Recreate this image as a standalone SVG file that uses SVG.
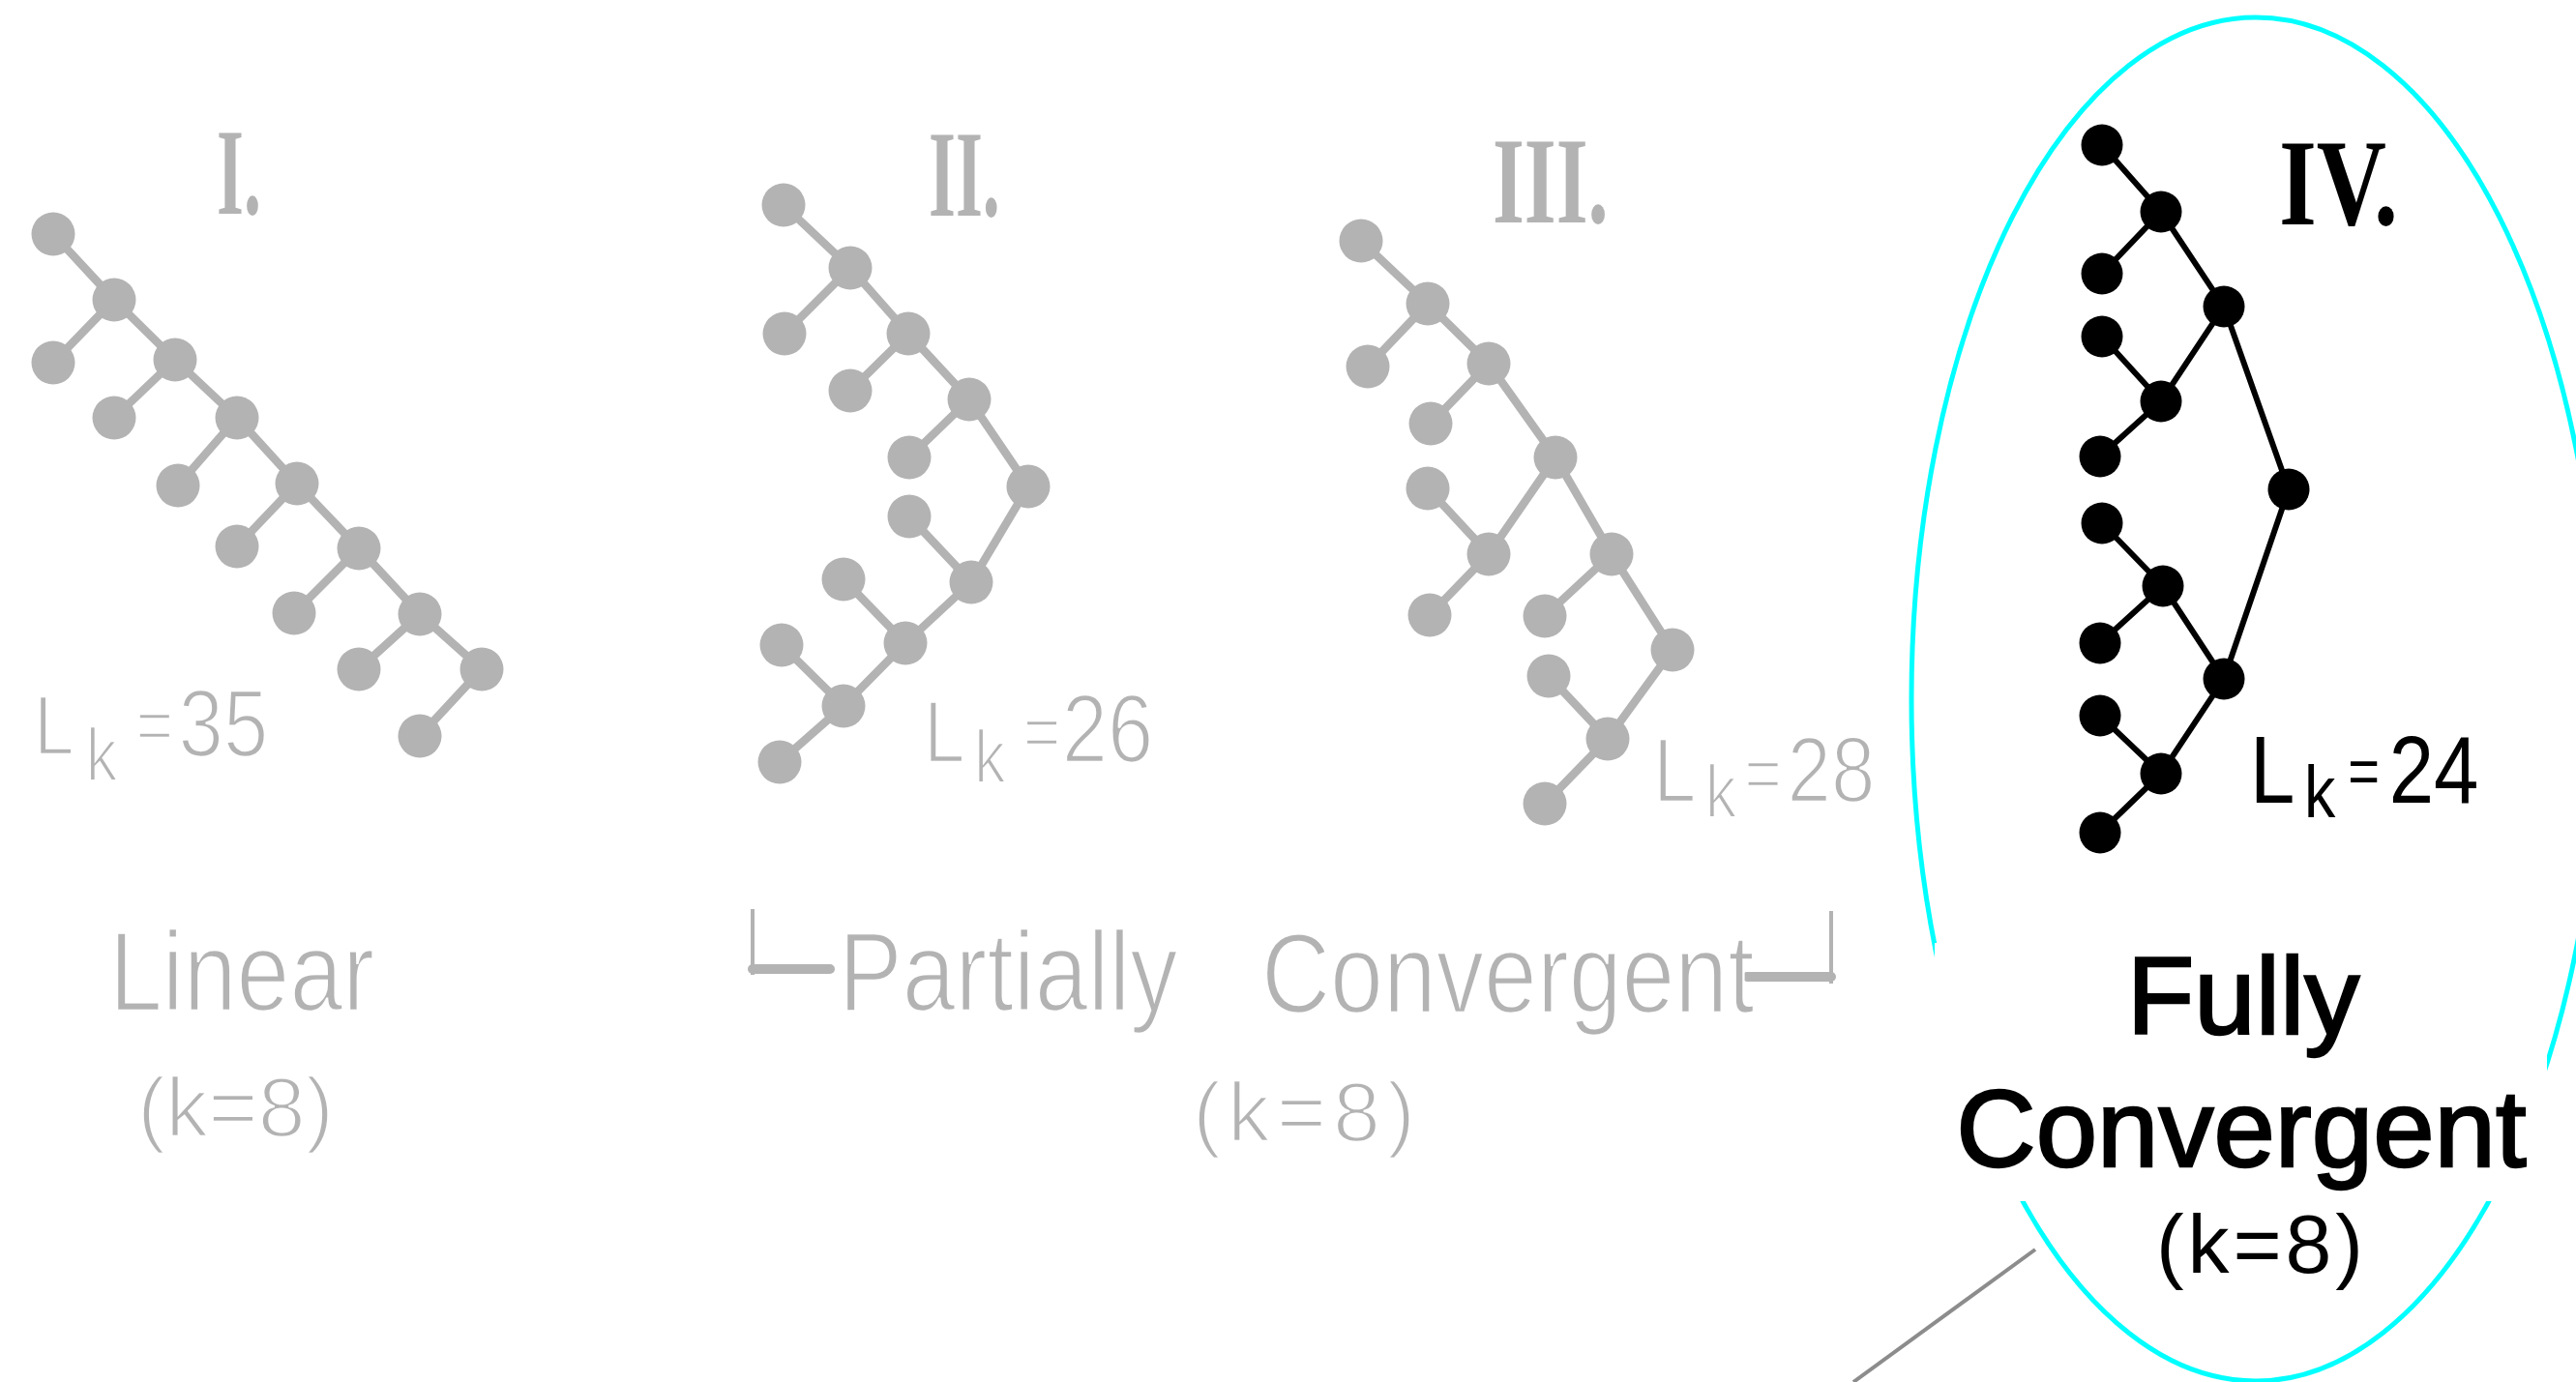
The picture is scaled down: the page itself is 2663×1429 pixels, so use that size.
<svg xmlns="http://www.w3.org/2000/svg" width="2663" height="1429" viewBox="0 0 2663 1429">
<style>
.ge{stroke:#b3b3b3;stroke-width:8.5;stroke-linecap:round}
.be{stroke:#000;stroke-width:6;stroke-linecap:round}
.gn{fill:#b3b3b3}
.bn{fill:#000}
.num{font-family:"Liberation Serif","Times New Roman",serif;font-weight:bold;font-size:128px}
.lab{font-family:"Liberation Sans",Arial,sans-serif}
.thin{stroke:#fff;stroke-width:2.6}
.gray{fill:#b3b3b3}
.blk{fill:#000}
</style>
<defs>
<linearGradient id="g28" gradientUnits="userSpaceOnUse" x1="264" y1="0" x2="266" y2="0">
<stop offset="0" stop-color="#b3b3b3"/><stop offset="1" stop-color="#000"/>
</linearGradient>
</defs>
<rect width="2663" height="1429" fill="#fff"/>

<g id="connectors">
<!-- Tree I -->
<line class="ge" x1="55" y1="242" x2="118" y2="310"/>
<line class="ge" x1="55" y1="375" x2="118" y2="310"/>
<line class="ge" x1="118" y1="310" x2="181" y2="372"/>
<line class="ge" x1="118" y1="432" x2="181" y2="372"/>
<line class="ge" x1="181" y1="372" x2="245" y2="432"/>
<line class="ge" x1="184" y1="502" x2="245" y2="432"/>
<line class="ge" x1="245" y1="432" x2="307" y2="500"/>
<line class="ge" x1="245" y1="565" x2="307" y2="500"/>
<line class="ge" x1="307" y1="500" x2="371" y2="567"/>
<line class="ge" x1="304" y1="634" x2="371" y2="567"/>
<line class="ge" x1="371" y1="567" x2="434" y2="635"/>
<line class="ge" x1="371" y1="692" x2="434" y2="635"/>
<line class="ge" x1="434" y1="635" x2="498" y2="692"/>
<line class="ge" x1="434" y1="761" x2="498" y2="692"/>
<!-- Tree II -->
<line class="ge" x1="810" y1="212" x2="879" y2="277"/>
<line class="ge" x1="811" y1="345" x2="879" y2="277"/>
<line class="ge" x1="879" y1="277" x2="939" y2="345"/>
<line class="ge" x1="879" y1="404" x2="939" y2="345"/>
<line class="ge" x1="939" y1="345" x2="1002" y2="413"/>
<line class="ge" x1="940" y1="473" x2="1002" y2="413"/>
<line class="ge" x1="1002" y1="413" x2="1063" y2="503"/>
<line class="ge" x1="1063" y1="503" x2="1004" y2="602"/>
<line class="ge" x1="940" y1="534" x2="1004" y2="602"/>
<line class="ge" x1="1004" y1="602" x2="936" y2="665"/>
<line class="ge" x1="872" y1="599" x2="936" y2="665"/>
<line class="ge" x1="936" y1="665" x2="872" y2="730"/>
<line class="ge" x1="808" y1="667" x2="872" y2="730"/>
<line class="ge" x1="806" y1="788" x2="872" y2="730"/>
<!-- Tree III -->
<line class="ge" x1="1407" y1="249" x2="1476" y2="314"/>
<line class="ge" x1="1414" y1="379" x2="1476" y2="314"/>
<line class="ge" x1="1476" y1="314" x2="1539" y2="376"/>
<line class="ge" x1="1479" y1="438" x2="1539" y2="376"/>
<line class="ge" x1="1539" y1="376" x2="1608" y2="473"/>
<line class="ge" x1="1608" y1="473" x2="1539" y2="573"/>
<line class="ge" x1="1476" y1="505" x2="1539" y2="573"/>
<line class="ge" x1="1478" y1="636" x2="1539" y2="573"/>
<line class="ge" x1="1608" y1="473" x2="1666" y2="573"/>
<line class="ge" x1="1597" y1="637" x2="1666" y2="573"/>
<line class="ge" x1="1666" y1="573" x2="1729" y2="672"/>
<line class="ge" x1="1729" y1="672" x2="1662" y2="764"/>
<line class="ge" x1="1601" y1="699" x2="1662" y2="764"/>
<line class="ge" x1="1597" y1="831" x2="1662" y2="764"/>
<!-- Tree IV -->
<line class="be" x1="2173" y1="150" x2="2234" y2="219"/>
<line class="be" x1="2173" y1="283" x2="2234" y2="219"/>
<line class="be" x1="2234" y1="219" x2="2299" y2="317"/>
<line class="be" x1="2173" y1="348" x2="2234" y2="415"/>
<line class="be" x1="2171" y1="472" x2="2234" y2="415"/>
<line class="be" x1="2234" y1="415" x2="2299" y2="317"/>
<line class="be" x1="2299" y1="317" x2="2366" y2="506"/>
<line class="be" x1="2366" y1="506" x2="2299" y2="702"/>
<line class="be" x1="2236" y1="606" x2="2299" y2="702"/>
<line class="be" x1="2234" y1="800" x2="2299" y2="702"/>
<line class="be" x1="2173" y1="541" x2="2236" y2="606"/>
<line class="be" x1="2171" y1="665" x2="2236" y2="606"/>
<line class="be" x1="2171" y1="740" x2="2234" y2="800"/>
<line class="be" x1="2171" y1="861" x2="2234" y2="800"/>
<!-- pointer line -->
<line x1="1916" y1="1429" x2="2104" y2="1292" stroke="#8c8c8c" stroke-width="4"/>
</g>

<g id="tree-1">
<g id="t1-n1"><circle class="gn" cx="55" cy="242" r="22.5"/></g>
<g id="t1-n2"><circle class="gn" cx="118" cy="310" r="22.5"/></g>
<g id="t1-n3"><circle class="gn" cx="55" cy="375" r="22.5"/></g>
<g id="t1-n4"><circle class="gn" cx="181" cy="372" r="22.5"/></g>
<g id="t1-n5"><circle class="gn" cx="118" cy="432" r="22.5"/></g>
<g id="t1-n6"><circle class="gn" cx="245" cy="432" r="22.5"/></g>
<g id="t1-n7"><circle class="gn" cx="184" cy="502" r="22.5"/></g>
<g id="t1-n8"><circle class="gn" cx="307" cy="500" r="22.5"/></g>
<g id="t1-n9"><circle class="gn" cx="245" cy="565" r="22.5"/></g>
<g id="t1-n10"><circle class="gn" cx="371" cy="567" r="22.5"/></g>
<g id="t1-n11"><circle class="gn" cx="304" cy="634" r="22.5"/></g>
<g id="t1-n12"><circle class="gn" cx="434" cy="635" r="22.5"/></g>
<g id="t1-n13"><circle class="gn" cx="371" cy="692" r="22.5"/></g>
<g id="t1-n14"><circle class="gn" cx="498" cy="692" r="22.5"/></g>
<g id="t1-n15"><circle class="gn" cx="434" cy="761" r="22.5"/></g>
<text id="t1-title" class="num gray" transform="translate(224,221) scale(0.56,1)" x="0" y="0">I.</text>
<text id="t1-lk" class="lab gray thin" transform="translate(35,0) scale(0.85,1)"><tspan x="0" y="780" font-size="88">L</tspan><tspan x="63" y="808" font-size="78">k</tspan><tspan x="124" y="776" font-size="78">=</tspan><tspan x="176" y="782" font-size="98">35</tspan></text>
<text id="t1-name" class="lab gray thin" font-size="116" transform="translate(113,1045) scale(0.85,1)" x="0" y="0">Linear</text>
<text id="t1-k" class="lab gray thin" font-size="88" x="142" y="1175" textLength="203" lengthAdjust="spacing">(k=8)</text>
</g>

<g id="tree-2">
<g id="t2-n1"><circle class="gn" cx="810" cy="212" r="22.5"/></g>
<g id="t2-n2"><circle class="gn" cx="879" cy="277" r="22.5"/></g>
<g id="t2-n3"><circle class="gn" cx="811" cy="345" r="22.5"/></g>
<g id="t2-n4"><circle class="gn" cx="939" cy="345" r="22.5"/></g>
<g id="t2-n5"><circle class="gn" cx="879" cy="404" r="22.5"/></g>
<g id="t2-n6"><circle class="gn" cx="1002" cy="413" r="22.5"/></g>
<g id="t2-n7"><circle class="gn" cx="940" cy="473" r="22.5"/></g>
<g id="t2-n8"><circle class="gn" cx="1063" cy="503" r="22.5"/></g>
<g id="t2-n9"><circle class="gn" cx="940" cy="534" r="22.5"/></g>
<g id="t2-n10"><circle class="gn" cx="1004" cy="602" r="22.5"/></g>
<g id="t2-n11"><circle class="gn" cx="872" cy="599" r="22.5"/></g>
<g id="t2-n12"><circle class="gn" cx="936" cy="665" r="22.5"/></g>
<g id="t2-n13"><circle class="gn" cx="808" cy="667" r="22.5"/></g>
<g id="t2-n14"><circle class="gn" cx="872" cy="730" r="22.5"/></g>
<g id="t2-n15"><circle class="gn" cx="806" cy="788" r="22.5"/></g>
<text id="t2-title" class="num gray" transform="translate(960,223) scale(0.56,1)" x="0" y="0">II.</text>
<text id="t2-lk" class="lab gray thin" transform="translate(955,0) scale(0.85,1)"><tspan x="0" y="788" font-size="90">L</tspan><tspan x="61" y="810" font-size="78">k</tspan><tspan x="121" y="783" font-size="78">=</tspan><tspan x="168" y="788" font-size="100">26</tspan></text>
</g>

<g id="tree-3">
<g id="t3-n1"><circle class="gn" cx="1407" cy="249" r="22.5"/></g>
<g id="t3-n2"><circle class="gn" cx="1476" cy="314" r="22.5"/></g>
<g id="t3-n3"><circle class="gn" cx="1414" cy="379" r="22.5"/></g>
<g id="t3-n4"><circle class="gn" cx="1539" cy="376" r="22.5"/></g>
<g id="t3-n5"><circle class="gn" cx="1479" cy="438" r="22.5"/></g>
<g id="t3-n6"><circle class="gn" cx="1608" cy="473" r="22.5"/></g>
<g id="t3-n7"><circle class="gn" cx="1476" cy="505" r="22.5"/></g>
<g id="t3-n8"><circle class="gn" cx="1539" cy="573" r="22.5"/></g>
<g id="t3-n9"><circle class="gn" cx="1478" cy="636" r="22.5"/></g>
<g id="t3-n10"><circle class="gn" cx="1666" cy="573" r="22.5"/></g>
<g id="t3-n11"><circle class="gn" cx="1597" cy="637" r="22.5"/></g>
<g id="t3-n12"><circle class="gn" cx="1729" cy="672" r="22.5"/></g>
<g id="t3-n13"><circle class="gn" cx="1601" cy="699" r="22.5"/></g>
<g id="t3-n14"><circle class="gn" cx="1662" cy="764" r="22.5"/></g>
<g id="t3-n15"><circle class="gn" cx="1597" cy="831" r="22.5"/></g>
<text id="t3-title" class="num gray" transform="translate(1543,230) scale(0.66,1)" x="0" y="0">III.</text>
<text id="t3-lk" class="lab thin" fill="url(#g28)" transform="translate(1709,0) scale(0.85,1)"><tspan x="0" y="829" font-size="94">L</tspan><tspan x="63" y="846" font-size="78">k</tspan><tspan x="111" y="826" font-size="78">=</tspan><tspan x="163" y="829" font-size="96">28</tspan></text>
</g>

<g id="partial-label">
<line x1="778" y1="940" x2="778" y2="1008" stroke="#b3b3b3" stroke-width="4"/>
<line x1="778" y1="1002" x2="858" y2="1002" stroke="#b3b3b3" stroke-width="10" stroke-linecap="round"/>
<line x1="1806" y1="1010" x2="1893" y2="1010" stroke="#b3b3b3" stroke-width="10" stroke-linecap="round"/>
<line x1="1893" y1="942" x2="1893" y2="1017" stroke="#b3b3b3" stroke-width="4"/>
<text id="partial-name" class="lab gray thin" font-size="116" transform="translate(867,0) scale(0.85,1)"><tspan x="0" y="1045">Partially</tspan><tspan x="514" y="1047">Convergent</tspan></text>
<text id="partial-k" class="lab gray thin" font-size="88" x="1233" y="1180" textLength="230" lengthAdjust="spacing">(k=8)</text>
</g>

<g id="tree-4">
<ellipse cx="2332" cy="723" rx="356" ry="705" fill="none" stroke="#00ffff" stroke-width="5"/>
<rect x="2000" y="975" width="633" height="267" fill="#fff"/>
<g id="t4-n1"><circle class="bn" cx="2173" cy="150" r="21.5"/></g>
<g id="t4-n2"><circle class="bn" cx="2234" cy="219" r="21.5"/></g>
<g id="t4-n3"><circle class="bn" cx="2173" cy="283" r="21.5"/></g>
<g id="t4-n4"><circle class="bn" cx="2299" cy="317" r="21.5"/></g>
<g id="t4-n5"><circle class="bn" cx="2173" cy="348" r="21.5"/></g>
<g id="t4-n6"><circle class="bn" cx="2234" cy="415" r="21.5"/></g>
<g id="t4-n7"><circle class="bn" cx="2171" cy="472" r="21.5"/></g>
<g id="t4-n8"><circle class="bn" cx="2366" cy="506" r="21.5"/></g>
<g id="t4-n9"><circle class="bn" cx="2173" cy="541" r="21.5"/></g>
<g id="t4-n10"><circle class="bn" cx="2236" cy="606" r="21.5"/></g>
<g id="t4-n11"><circle class="bn" cx="2171" cy="665" r="21.5"/></g>
<g id="t4-n12"><circle class="bn" cx="2299" cy="702" r="21.5"/></g>
<g id="t4-n13"><circle class="bn" cx="2171" cy="740" r="21.5"/></g>
<g id="t4-n14"><circle class="bn" cx="2234" cy="800" r="21.5"/></g>
<g id="t4-n15"><circle class="bn" cx="2171" cy="861" r="21.5"/></g>
<text id="t4-title" class="num blk" transform="translate(2356,232) scale(0.78,1)" x="0" y="0">IV.</text>
<text id="t4-lk" class="lab blk" transform="translate(2326,0) scale(0.85,1)"><tspan x="0" y="830" font-size="98">L</tspan><tspan x="66" y="845" font-size="76">k</tspan><tspan x="119" y="820" font-size="66">=</tspan><tspan x="169" y="830" font-size="98">24</tspan></text>
<text id="t4-name" class="lab blk" font-size="114" text-anchor="middle" stroke="#000" stroke-width="2.4"><tspan x="2319" y="1069">Fully</tspan><tspan x="2317" y="1206">Convergent</tspan></text>
<text id="t4-k" class="lab blk" font-size="86" x="2229" y="1316" textLength="214" lengthAdjust="spacing">(k=8)</text>
</g>
</svg>
